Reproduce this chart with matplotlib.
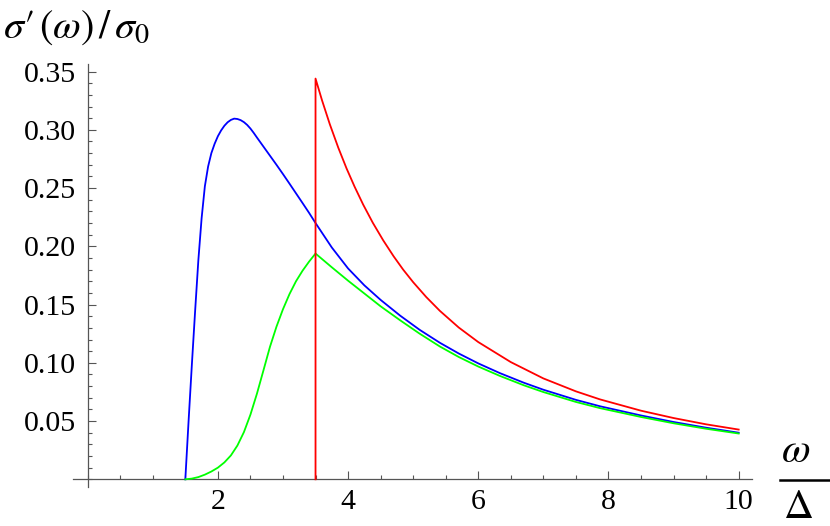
import matplotlib
matplotlib.use("Agg")
import matplotlib.pyplot as plt
from matplotlib.ticker import MultipleLocator, FixedLocator
from matplotlib.lines import Line2D

# ---- data ----
blue_x = [1.5, 1.55, 1.6, 1.65, 1.7, 1.75, 1.8, 1.85, 1.9, 1.95, 2.0, 2.05, 2.1, 2.15,
          2.2, 2.25, 2.3, 2.35, 2.4, 2.45, 2.5, 2.55, 2.6, 2.7, 2.8, 2.9, 3.0, 3.1, 3.2,
          3.3, 3.4, 3.5, 3.75, 4.0, 4.25, 4.5, 4.8, 5.1, 5.41, 5.7, 6.0, 6.33, 6.7, 7.0,
          7.5, 7.87, 8.5, 9.0, 9.5, 10.0]
blue_y = [0.0, 0.050, 0.098, 0.144, 0.188, 0.224, 0.2515, 0.2685, 0.2800, 0.2880, 0.2945,
          0.2995, 0.3035, 0.3065, 0.3085, 0.3096, 0.3093, 0.3083, 0.3066, 0.3042, 0.3011,
          0.2974, 0.2934, 0.2856, 0.2778, 0.2700, 0.2620, 0.2538, 0.2455, 0.2372, 0.2288,
          0.2200, 0.1990, 0.1810, 0.1665, 0.1540, 0.1405, 0.1283, 0.1172, 0.1080, 0.0995,
          0.0912, 0.0829, 0.0769, 0.0682, 0.0627, 0.0548, 0.0492, 0.0443, 0.0400]

green_x = [1.5, 1.6, 1.7, 1.8, 1.9, 2.0, 2.1, 2.2, 2.3, 2.4, 2.5, 2.6, 2.7, 2.8, 2.9,
           3.0, 3.1, 3.2, 3.3, 3.4, 3.5, 3.75, 4.0, 4.25, 4.5, 4.8, 5.1, 5.41, 5.7, 6.0,
           6.33, 6.7, 7.0, 7.5, 7.87, 8.5, 9.0, 9.5, 10.0]
green_y = [0.0, 0.0006, 0.0019, 0.0040, 0.0067, 0.0100, 0.0145, 0.0205, 0.0290, 0.0405,
           0.0555, 0.0735, 0.0935, 0.1137, 0.1310, 0.1460, 0.1590, 0.1700, 0.1790, 0.1868,
           0.1938, 0.1820, 0.1705, 0.1595, 0.1485, 0.1365, 0.1250, 0.1140, 0.1050, 0.0968,
           0.0888, 0.0807, 0.0749, 0.0664, 0.0611, 0.0535, 0.0481, 0.0434, 0.0393]

red_x = [3.5, 3.5, 3.6, 3.72, 3.85, 3.977, 4.1, 4.232, 4.38, 4.54, 4.7, 4.846, 5.0, 5.2,
         5.41, 5.7, 6.0, 6.5, 7.0, 7.5, 7.87, 8.5, 9.0, 9.5, 10.0]
red_y = [0.0, 0.344, 0.3253, 0.3047, 0.2846, 0.2668, 0.2512, 0.2358, 0.2202, 0.2051,
         0.1914, 0.1800, 0.1692, 0.1565, 0.1446, 0.1303, 0.1178, 0.1006, 0.0866, 0.0755,
         0.0686, 0.0589, 0.0526, 0.0472, 0.0427]

x_major = [2, 4, 6, 8, 10]
y_major = [0.05, 0.10, 0.15, 0.20, 0.25, 0.30, 0.35]
y_major_labels = ["0.05", "0.10", "0.15", "0.20", "0.25", "0.30", "0.35"]

# ---- figure ----
plt.rcParams['font.family'] = ['Liberation Serif', 'DejaVu Serif']
plt.rcParams['mathtext.fontset'] = 'stix'
fig = plt.figure(figsize=(8.30, 5.26), dpi=100)
ax = fig.add_axes([72.7 / 830, 39 / 526, (751.7 - 72.7) / 830, (487 - 64) / 526])

lw = 1.3
ax.plot(blue_x, blue_y, color=(0, 0, 1), lw=lw, clip_on=False)
ax.plot(green_x, green_y, color=(0, 1, 0), lw=lw, clip_on=False)
ax.plot(red_x, red_y, color=(1, 0, 0), lw=lw, clip_on=False)

ax.set_xlim(-0.23, 10.2)
ax.set_ylim(-0.0066, 0.3565)

axcol = '#555555'
for s in ['top', 'right']:
    ax.spines[s].set_visible(False)
ax.spines['left'].set_position(('data', 0))
ax.spines['bottom'].set_position(('data', 0))
for s in ['left', 'bottom']:
    ax.spines[s].set_color(axcol)
    ax.spines[s].set_linewidth(0.9)
    ax.spines[s].set_zorder(0.5)

ax.xaxis.set_major_locator(FixedLocator(x_major))
ax.xaxis.set_minor_locator(MultipleLocator(0.5))
ax.yaxis.set_major_locator(FixedLocator(y_major))
ax.set_yticklabels(y_major_labels)
ax.yaxis.set_minor_locator(MultipleLocator(0.01))

ax.tick_params(which='both', direction='in', color=axcol, width=0.8, labelsize=21.5)
ax.tick_params(which='major', length=5.5)
ax.tick_params(which='minor', length=3.0)
ax.tick_params(axis='y', which='major', pad=8.5)
ax.tick_params(axis='x', which='major', pad=7)

fig.text(3 / 830, 1 - 38 / 526, "$\\sigma\u2032\\,(\\omega)\\,/\\,\\sigma_0$", fontsize=29,
         ha='left', va='baseline')

# x-axis label: omega over Delta
fig.text(796 / 830, 1 - 452 / 526, r"$\omega$", fontsize=30, ha='center', va='center')
fig.text(798 / 830, 1 - 508 / 526, r"$\Delta$", fontsize=30, ha='center', va='center')
fig.add_artist(Line2D([780 / 830, 1.0], [1 - 479.5 / 526, 1 - 479.5 / 526],
                      transform=fig.transFigure, color='black', lw=1.8))

fig.savefig("out.png", dpi=100)
